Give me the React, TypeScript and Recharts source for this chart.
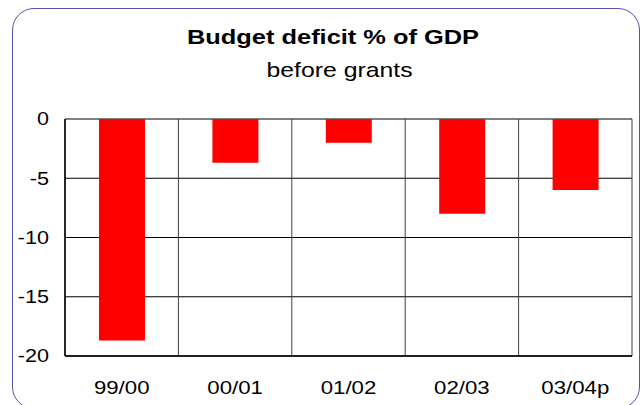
import React from "react";
import { BarChart, Bar, XAxis, YAxis, CartesianGrid } from "recharts";

const categories = ["99/00", "00/01", "01/02", "02/03", "03/04p"];
const deficitValues = [-18.7, -3.7, -2.0, -8.0, -6.0];
const yTicks = [0, -5, -10, -15, -20];

const data = categories.map((c, i) => ({ name: c, value: deficitValues[i] }));

const font = "'Liberation Sans', Arial, sans-serif";

const XTick = (props: any) => {
  const { x, y, payload } = props;
  return (
    <text
      transform={`translate(${x},${y + 38}) scale(1.17,1)`}
      textAnchor="middle"
      fontSize={19}
      fontFamily={font}
      fill="#000"
    >
      {payload.value}
    </text>
  );
};

const YTick = (props: any) => {
  const { x, y, payload } = props;
  return (
    <text
      transform={`translate(${x - 16},${y}) scale(1.2,1)`}
      textAnchor="end"
      dy="0.36em"
      fontSize={18}
      fontFamily={font}
      fill="#000"
    >
      {payload.value}
    </text>
  );
};

export default function App() {
  return (
    <div style={{ position: "absolute", left: 0, top: 0, width: 643, height: 405, background: "#fff", fontFamily: font, overflow: "hidden" }}>
      <div style={{ position: "absolute", left: 12, top: 8, width: 626, height: 399, border: "1.5px solid #5454ac", borderRadius: 22 }} />
      <svg width={643} height={100} style={{ position: "absolute", left: 0, top: 0 }}>
        <text transform="translate(333,44) scale(1.21,1)" textAnchor="middle" fontSize={21} fontWeight="bold" fontFamily={font} fill="#000">
          Budget deficit % of GDP
        </text>
        <text transform="translate(339.5,77) scale(1.24,1)" textAnchor="middle" fontSize={20} fontFamily={font} fill="#000">
          before grants
        </text>
      </svg>
      <div style={{ position: "absolute", left: 0, top: 0 }}>
        <BarChart width={643} height={405} data={data} margin={{ top: 119, right: 11, bottom: 19, left: 10 }} barCategoryGap={0}>
          <CartesianGrid
            stroke="#000"
            strokeWidth={1}
            horizontal={true}
            vertical={false}
          />
          <CartesianGrid
            stroke="#404040"
            strokeWidth={1}
            horizontal={false}
            vertical={true}
            verticalCoordinatesGenerator={({ offset }: any) =>
              [0, 1, 2, 3, 4, 5].map((i) => offset.left + (i * offset.width) / 5)
            }
          />
          <XAxis
            dataKey="name"
            axisLine={{ stroke: "#000", strokeWidth: 1.5 }}
            tickLine={false}
            tickSize={0}
            tickMargin={0}
            tick={<XTick />}
            height={30}
          />
          <YAxis
            domain={[-20, 0]}
            ticks={yTicks}
            interval={0}
            axisLine={{ stroke: "#000", strokeWidth: 1.5 }}
            tickLine={false}
            tickSize={0}
            tickMargin={0}
            tick={<YTick />}
            width={55}
          />
          <Bar dataKey="value" fill="#ff0000" barSize={46} isAnimationActive={false} />
        </BarChart>
      </div>
    </div>
  );
}
